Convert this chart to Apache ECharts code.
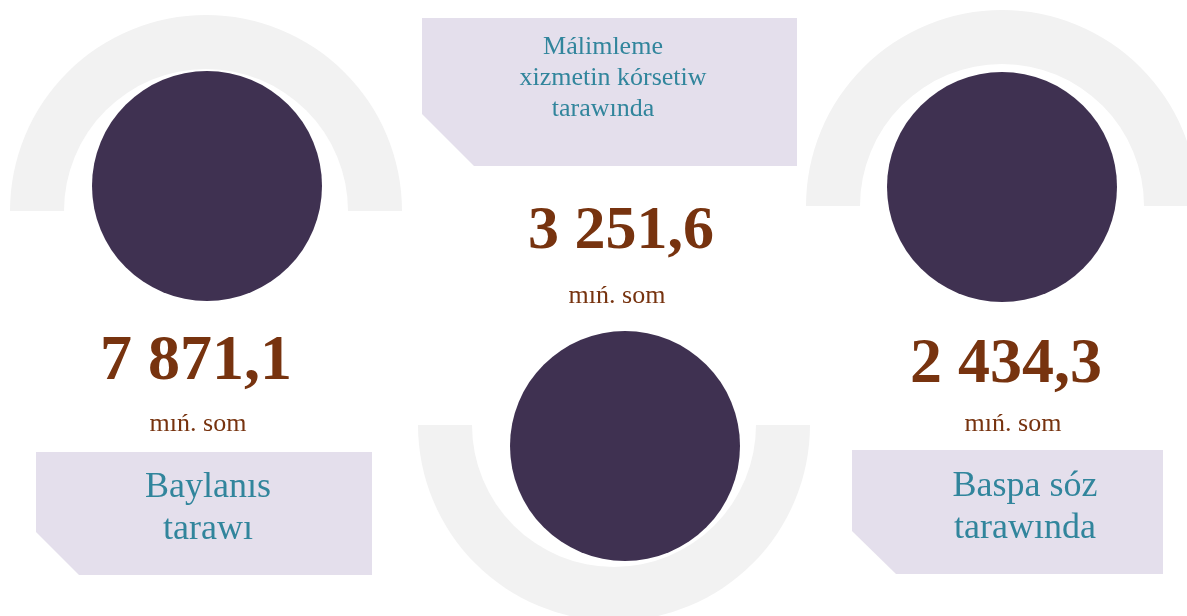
<!DOCTYPE html>
<html>
<head>
<meta charset="utf-8">
<script src="https://cdn.jsdelivr.net/npm/echarts@6/dist/echarts.min.js"></script>
<style>
  html, body { margin: 0; padding: 0; background: #fff; }
  #chart { width: 1187px; height: 616px; }
</style>
</head>
<body>
<div id="chart"></div>
<script>
// data
const sectorNames = ['Baylanıs\ntarawı', 'Málimleme\nxizmetin kórsetiw\ntarawında', 'Baspa sóz\ntarawında'];
const sectorValues = [7871.1, 3251.6, 2434.3];
const unitLabel = 'mıń. som';

const serif = '"Liberation Serif", "Times New Roman", serif';
const purple = '#3f3151';
const arcGrey = '#f2f2f2';
const boxFill = '#e4dfec';
const brown = '#77330f';
const teal = '#31859c';

// layout of the three blocks (left, middle, right)
const layout = [
  { arc: [206, 211], up: true, dot: [207, 186], num: [196, 362], unit: [198, 424], numSize: 64,
    box: [[36, 452], [372, 452], [372, 575], [79, 575], [36, 532]],
    label: [208, 509], labelSize: 36, labelLh: 42, lineShift: [0, 0] },
  { arc: [614, 425], up: false, dot: [625, 446], num: [621, 232], unit: [617, 296], numSize: 62,
    box: [[422, 18], [797, 18], [797, 166], [474, 166], [422, 114]],
    label: [608, 78], labelSize: 26, labelLh: 31, lineShift: [-5, 5, -5] },
  { arc: [1002, 206], up: true, dot: [1002, 187], num: [1006, 365], unit: [1013, 424], numSize: 64,
    box: [[852, 450], [1163, 450], [1163, 574], [896, 574], [852, 531]],
    label: [1025, 508], labelSize: 36, labelLh: 42, lineShift: [0, 0] }
];

function fmt(v) {
  const parts = v.toFixed(1).split('.');
  return parts[0].replace(/\B(?=(\d{3})+(?!\d))/g, ' ') + ',' + parts[1];
}

const series = [];
layout.forEach((l, i) => {
  // half ring
  series.push({
    type: 'pie',
    silent: true,
    animation: false,
    center: l.arc,
    radius: [142, 196],
    startAngle: l.up ? 180 : 0,
    label: { show: false },
    labelLine: { show: false },
    data: [
      { value: 1, itemStyle: { color: arcGrey } },
      { value: 1, itemStyle: { color: 'transparent' } }
    ]
  });
  // filled disc
  series.push({
    type: 'pie',
    silent: true,
    animation: false,
    center: l.dot,
    radius: [0, 115],
    label: { show: false },
    labelLine: { show: false },
    data: [{ name: sectorNames[i], value: sectorValues[i], itemStyle: { color: purple } }]
  });
});

const graphics = [];
layout.forEach((l, i) => {
  graphics.push({
    type: 'polygon',
    silent: true,
    shape: { points: l.box },
    style: { fill: boxFill }
  });
  // one text per line so each line can sit a little off centre like the original
  const lines = sectorNames[i].split('\n');
  const top = l.label[1] - (lines.length - 1) * l.labelLh / 2;
  lines.forEach((line, k) => {
    graphics.push({
      type: 'text',
      silent: true,
      style: {
        text: line,
        x: l.label[0] + (l.lineShift[k] || 0), y: top + k * l.labelLh,
        align: 'center', verticalAlign: 'middle',
        font: l.labelSize + 'px ' + serif,
        fill: teal
      }
    });
  });
  graphics.push({
    type: 'text',
    silent: true,
    style: {
      text: fmt(sectorValues[i]),
      x: l.num[0], y: l.num[1],
      align: 'center', verticalAlign: 'middle',
      font: 'bold ' + l.numSize + 'px ' + serif,
      fill: brown
    }
  });
  graphics.push({
    type: 'text',
    silent: true,
    style: {
      text: unitLabel,
      x: l.unit[0], y: l.unit[1],
      align: 'center', verticalAlign: 'middle',
      font: '26px ' + serif,
      fill: brown
    }
  });
});

const chart = echarts.init(document.getElementById('chart'));
chart.setOption({
  backgroundColor: '#ffffff',
  animation: false,
  series: series,
  graphic: graphics
});
</script>
</body>
</html>
